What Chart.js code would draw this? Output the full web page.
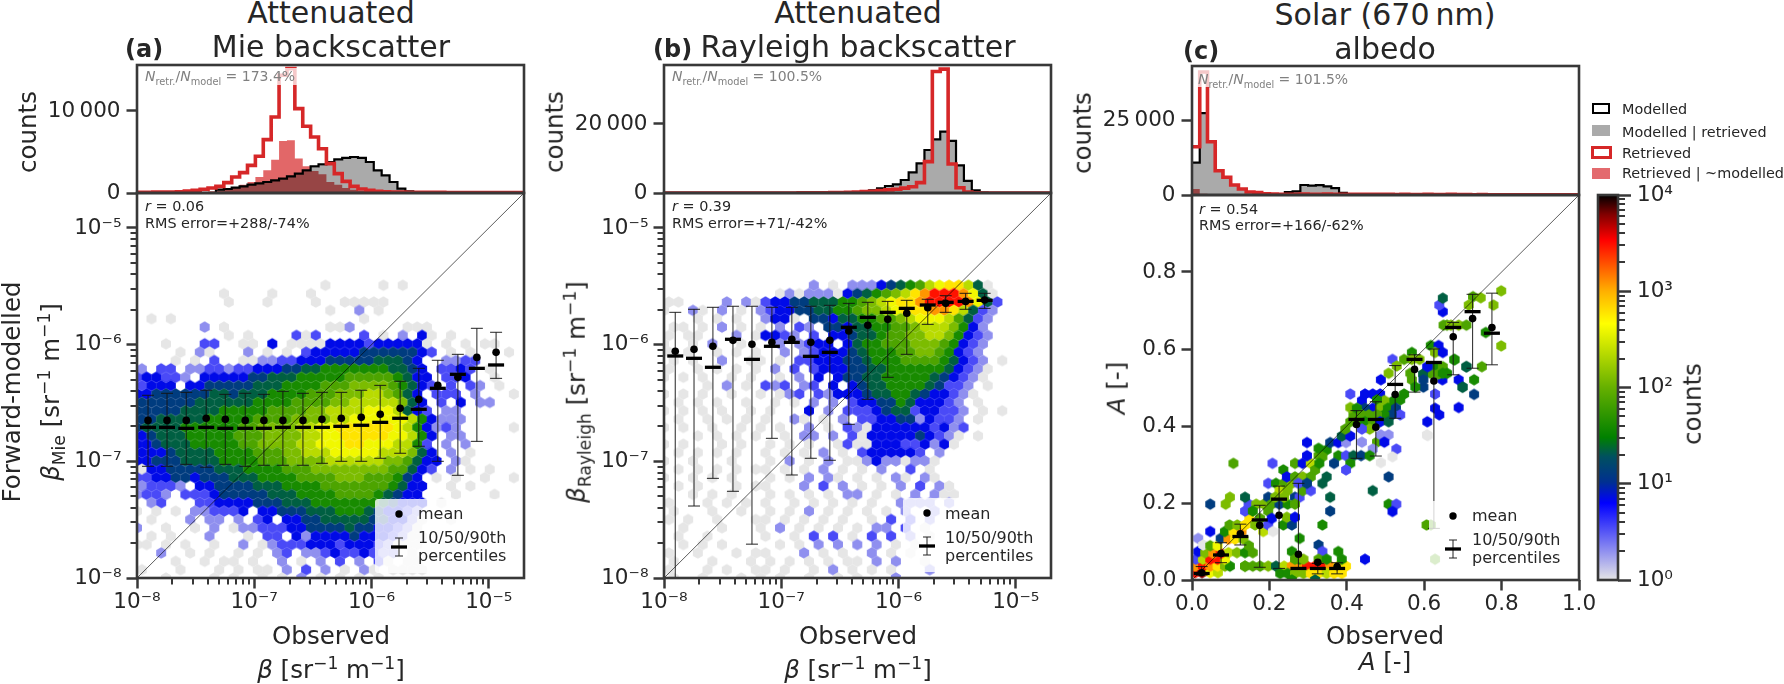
<!DOCTYPE html>
<html><head><meta charset="utf-8">
<style>
html,body{margin:0;padding:0;background:#fff;width:1784px;height:684px;overflow:hidden}
canvas{position:absolute}
.t{position:absolute;white-space:nowrap;color:#262626;line-height:1;font-family:'DejaVu Sans',sans-serif}
.t sub,.t sup{font-size:.7em;line-height:0}
.sw{position:absolute;box-sizing:border-box}
</style>
<script src="https://cdn.jsdelivr.net/npm/chart.js@4"></script>
</head><body>
<script>
// ---------- values ----------
// hexbin tables: one string per hexagon row, top row first; one character per column, see LEVEL_COUNTS
const LEVEL_COUNTS={'1':1,'2':2,'3':3.5,'4':7,'5':13,'6':22,'7':40,'8':75,'9':125,'a':230,'b':400,'c':600,'d':1200,'e':3000,'f':6000,'g':10000};
const mieRows=[
".......... .........1 .....1.1.. ..........",
".........1 ....1...1. .......... ..........",
".........1 ...1....1. .11111.... ..........",
".......... .......... 1..2.1.... ..........",
".1.1...... .......... ...1...... ..........",
".......2.1 .......... 112.....11 1.........",
".........1 .1....313. ...3.1.2.4 1.1.......",
"...1...33. .11.4.1111 4444344444 1.1.1.11..",
"....1.21.. .2.1.1.344 4445555554 3.1.1...1.",
"....1.1.3. .112233444 5555566654 ..2233....",
"2.33.22332 3344455667 7777776654 .3343.1...",
"344332.444 4455666777 7788888764 4.334..1..",
"3444.44555 5566677778 8899998764 3.3.32.1..",
"4455555566 5666777788 8999aa9864 .333.2...1",
"5555556666 6677778888 99aaaaa964 .3.4.22...",
"5555566667 7777888899 aaaabbba64 3.22......",
"5566666777 7788889999 aabbbbbba7 4222......",
"5666677777 7889999aab bccccccba7 4232.....1",
"4566677777 8889999aab bcccccbba7 4.22......",
"4456667777 7889999aab bbccbbbaa7 3.2.2.....",
"4445666677 7788899aaa bbbbbaaa96 4.2.1.....",
"4455566667 7778889999 aaaaaa9986 44.21.....",
"1445555566 6777788899 9999998864 3.2.1.1...",
"3344554555 6667777888 8999888754 .1.1..1..1",
"23332.4455 5566677778 8888887644 ..1.1.....",
"2332.33345 5555666777 7888876544 ...1...1..",
".23...3344 4455566677 7777765444 .1........",
"1.1.1.2233 34.4455566 6777654432 ..........",
".1...2.22. 2.34.44556 6666554421 ..1.......",
"2..1..1.2. 1223334455 5565544321 ..........",
".1.1...2.. .1.33.4244 4454443211 ..........",
"11.1.1..1. .2.1233344 4344432111 ..........",
"..2..1.1.. 1.1.23.223 4334322.1. ..........",
"....1..1.1 1.1..2.1.2 .3.2.31.11 ..........",
"1...1...1. 1.11.2.3.2 .1.21.1111 ..........",
"...1....1. 1..1.1.2.1 .1.1.1.... .........."
];
const rayRows=[
".......... .....2.1.2 2245678abc ca61......",
".......... ..12122214 56789acdee edb61.....",
"11....2.21 3445566677 89abccdeee edb63.....",
"1..21.2.1. 2344556677 899abcccdd ca632.....",
"...1.1.1.. 2441.55466 77889abbba 8632......",
".11.1.2.1. 1.2.32.554 6677889aaa 9742......",
"1.11...2.1 4432.3.445 6678899aa9 7432......",
"1..1.2..1. ..2.2344.4 6778889998 7432......",
"1.1..1.1.1 ..2.234445 6777889987 432.......",
".1.1..2..1 1.1.334445 5677788887 6432.1....",
"1..1.1.1.1 .2.3.34445 5667777776 4321......",
"1.1.1..1.1 ..1.2.4.45 5667777765 4321......",
"....1.2.1. 323.23.4.4 5667777653 32.1......",
"1.1.1..1.. 1.123.3244 4566776544 321.......",
".1.1.1..1. .1.1.2.2.3 4455764443 2.1.......",
"1.1.1.1..1 .1...4.2.3 3345663443 32.1.1....",
".1..1.1.1. 1..21.1.2. 3344552433 2.1.......",
"1.1..1..1. 1.1..2.1.3 2144444434 23........",
"...1.1.1.1 ..1.22.2.3 1444445432 1.1.......",
"1.1...1.1. .1.1.1..13 1144433424 1.........",
".1.1.1.1.. 1.1.1.2.1. 3444443.2. ..........",
"1..1...1.. .1.2.1.2.1 124221221. ..........",
".1.1.1.1.1 1.1.1.2.1. 1.2..3.1.. ..........",
"1..1.1.1.. .1.1.2.21. 1.1.21.21. ..........",
".1.1...1.1 1...2.3.2. 1.1.2.3.21 ..........",
"...1.1.1.. .1.1.1.1.2 2.1.1.2.21 1.........",
"1...1.1.1. 1..1.1.1.1 .1..2222.2 ..........",
".1...1..1. .1.1.2.1.1 .1.1.2..2. ..........",
"1.1..1...1 1.1.1.1.1. .1.3.3.2.. ..........",
"..1...1... 1.2.1.1.1. 1.22.3.1.. ..........",
".1..1..... 1..1.3.3.1 .3.3.2.1.. ..........",
"..1.1.1... ..1.1.2.2. 2.2.1.1... ..........",
"1..1...1.1 1...2.1.1. .2.1.1.... ..........",
".1...1...1 .1.1.1.1.1 1.2.2..1.. ..........",
"1...1.1..1 1.1..1.2.1 .1.1...2.. ..........",
".1..1...1. 1.1..1..1. 1...2..... .........."
];
// panel (c): [observed A, forward-modelled A, level]
const albedoCells=[
[.008,.019,'e'],[.026,.019,'f'],[.047,.019,'b'],[.067,.019,'a'],[.008,.036,'d'],[.028,.036,'e'],[.047,.036,'d'],[.066,.036,'c'],[.085,.036,'9'],[.098,.036,'7'],
[.010,.054,'3'],[.028,.054,'a'],[.047,.054,'e'],[.066,.054,'e'],[.085,.054,'b'],[.137,.036,'8'],[.016,.074,'4'],[.034,.071,'9'],[.055,.069,'d'],[.074,.069,'e'],[.094,.071,'a'],[.116,.071,'9'],[.137,.071,'7'],[.157,.071,'8'],
[.016,.108,'2'],[.029,.091,'1'],[.047,.089,'8'],[.066,.089,'b'],[.074,.108,'5'],[.094,.106,'d'],[.111,.106,'c'],[.133,.106,'9'],[.147,.089,'8'],[.047,.126,'4'],[.085,.126,'7'],[.107,.126,'c'],[.128,.126,'d'],
[.097,.143,'8'],[.117,.143,'9'],[.137,.143,'c'],[.148,.160,'c'],[.163,.143,'9'],[.184,.126,'a'],[.137,.179,'3'],[.146,.197,'3'],[.166,.197,'9'],[.186,.197,'9'],[.157,.179,'7'],[.176,.160,'8'],[.197,.179,'8'],[.197,.143,'3'],[.209,.126,'1'],[.236,.143,'7'],[.258,.143,'5'],[.245,.163,'9'],[.266,.163,'4'],[.206,.160,'4'],
[.047,.197,'5'],[.087,.197,'9'],[.098,.215,'9'],[.137,.215,'6'],[.197,.215,'5'],[.206,.197,'8'],[.226,.197,'5'],[.197,.251,'3'],[.217,.251,'7'],[.238,.251,'8'],[.258,.251,'9'],[.226,.232,'a'],[.247,.232,'9'],[.266,.215,'5'],[.278,.215,'3'],[.247,.197,'7'],[.266,.197,'8'],[.238,.215,'9'],[.215,.215,'9'],
[.107,.303,'8'],[.208,.303,'3'],[.266,.303,'8'],[.236,.286,'7'],[.245,.268,'4'],[.266,.268,'8'],[.286,.303,'4'],[.286,.268,'9'],[.307,.268,'8'],[.286,.232,'8'],[.307,.232,'3'],[.275,.251,'3'],[.297,.251,'5'],[.307,.303,'a'],[.297,.323,'4'],[.327,.323,'8'],[.348,.338,'7'],[.327,.342,'7'],[.337,.320,'8'],[.318,.286,'8'],[.329,.303,'7'],
[.297,.357,'4'],[.357,.357,'5'],[.378,.357,'4'],[.398,.357,'2'],[.387,.374,'6'],[.409,.374,'4'],[.396,.392,'8'],[.409,.411,'8'],[.417,.429,'8'],[.409,.448,'9'],[.409,.483,'3'],[.439,.466,'4'],[.447,.483,'4'],[.467,.483,'4'],[.486,.483,'4'],[.488,.520,'4'],[.518,.573,'3'],[.529,.556,'9'],[.508,.537,'9'],[.548,.483,'7'],[.538,.468,'7'],[.517,.463,'7'],[.497,.466,'9'],[.478,.468,'7'],
[.467,.446,'4'],[.447,.446,'5'],[.426,.446,'7'],[.486,.446,'9'],[.506,.446,'7'],[.527,.446,'5'],[.538,.429,'3'],[.516,.429,'5'],[.497,.429,'7'],[.478,.429,'8'],[.457,.429,'8'],[.439,.429,'8'],[.426,.411,'8'],[.447,.411,'7'],[.467,.411,'8'],[.486,.411,'4'],[.508,.411,'6'],[.459,.392,'9'],[.439,.392,'3'],[.478,.358,'8'],[.488,.377,'2'],[.508,.377,'2'],[.497,.358,'4'],[.528,.340,'3'],[.439,.358,'2'],[.467,.340,'2'],
[.378,.323,'7'],[.398,.323,'3'],[.417,.323,'6'],[.437,.323,'5'],[.459,.323,'7'],[.367,.303,'5'],[.409,.303,'7'],[.398,.286,'3'],[.488,.305,'1'],[.518,.320,'1'],[.508,.268,'5'],[.467,.232,'6'],[.357,.215,'6'],[.348,.268,'6'],[.337,.251,'6'],[.357,.179,'5'],[.337,.143,'7'],[.278,.108,'7'],[.508,.197,'7'],[.528,.197,'3'],[.518,.178,'4'],[.447,.054,'4'],
[.607,.377,'1'],[.608,.411,'4'],[.639,.429,'4'],[.689,.448,'4'],[.699,.501,'6'],[.689,.520,'4'],[.647,.520,'4'],[.628,.483,'3'],[.598,.501,'5'],[.607,.553,'3'],[.628,.553,'7'],[.648,.554,'8'],[.659,.537,'7'],[.637,.535,'8'],[.617,.537,'8'],[.597,.535,'6'],[.568,.591,'7'],[.568,.573,'9'],[.588,.573,'9'],[.548,.573,'8'],[.568,.520,'8'],[.577,.501,'7'],[.678,.573,'7'],[.709,.554,'6'],[.617,.609,'7'],[.637,.609,'4'],[.628,.591,'9'],[.648,.591,'4'],
[.659,.662,'8'],[.650,.662,'8'],[.669,.662,'9'],[.689,.662,'9'],[.709,.662,'8'],[.648,.697,'4'],[.639,.714,'3'],[.648,.732,'6'],[.726,.736,'8'],[.746,.733,'9'],[.715,.714,'9'],[.799,.751,'9'],[.779,.714,'9'],[.759,.643,'7'],[.799,.608,'9'],[.749,.554,'8'],[.709,.554,'6'],[.678,.572,'7'],[.729,.520,'7'],[.729,.482,'5'],[.699,.501,'6'],[.648,.537,'7'],[.628,.446,'4'],[.609,.375,'1'],[.598,.520,'5'],[.564,.537,'8'],[.609,.554,'4'],[.617,.143,'8'],[.606,.143,'8'],[.628,.054,'8'],
[.137,.036,'8'],[.157,.036,'8'],[.176,.036,'8'],[.197,.036,'9'],[.217,.036,'6'],[.238,.036,'a'],[.258,.036,'d'],[.278,.036,'d'],[.297,.036,'e'],[.318,.036,'e'],[.335,.036,'e'],[.357,.036,'d'],[.378,.036,'c'],[.398,.036,'c'],
[.228,.017,'7'],[.247,.017,'7'],[.266,.017,'9'],[.288,.017,'9'],[.307,.017,'c'],[.327,.017,'c'],[.348,.017,'a'],[.367,.017,'c'],[.387,.017,'c'],[.258,.000,'7'],[.318,.000,'6'],
[.327,.091,'5'],[.337,.074,'3'],[.327,.054,'8'],[.348,.054,'7'],[.378,.074,'7'],[.387,.054,'7'],[.258,.074,'7'],[.278,.054,'7'],[.266,.054,'8'],[.288,.054,'9']
];
// mean / median / 10th / 90th percentile per observed bin (log10 for the two profile panels)
const mieBins=[-7.906,-7.744,-7.58,-7.41,-7.247,-7.077,-6.918,-6.756,-6.585,-6.423,-6.258,-6.088,-5.926,-5.756,-5.597,-5.435,-5.264,-5.102,-4.938];
const mieMean=[-6.649,-6.649,-6.649,-6.631,-6.64,-6.649,-6.649,-6.649,-6.649,-6.64,-6.631,-6.623,-6.597,-6.546,-6.469,-6.349,-6.28,-6.109,-6.066];
const mieMedian=[-6.709,-6.709,-6.717,-6.709,-6.717,-6.717,-6.717,-6.709,-6.709,-6.709,-6.7,-6.691,-6.666,-6.631,-6.554,-6.374,-6.254,-6.203,-6.174];
const mieP90=[-6.434,-6.417,-6.409,-6.391,-6.426,-6.417,-6.426,-6.4,-6.417,-6.409,-6.409,-6.391,-6.349,-6.314,-6.203,-6.134,-6.083,-5.86,-5.894];
const mieP10=[-7.043,-7.043,-7.026,-7.051,-7.026,-7.043,-7.034,-7.034,-7.034,-7.017,-7.0,-7.0,-6.974,-6.931,-6.871,-7.0,-7.12,-6.829,-6.289];
const rayBins=[-7.904,-7.744,-7.583,-7.412,-7.25,-7.08,-6.91,-6.748,-6.586,-6.424,-6.262,-6.092,-5.93,-5.751,-5.598,-5.428,-5.266];
const rayMean=[-6.057,-6.04,-6.014,-5.963,-5.997,-5.98,-5.954,-5.98,-5.963,-5.883,-5.834,-5.783,-5.731,-5.683,-5.646,-5.629,-5.617];
const rayMedian=[-6.097,-6.117,-6.194,-5.954,-6.126,-6.014,-5.98,-6.1,-6.066,-5.851,-5.766,-5.723,-5.689,-5.66,-5.637,-5.629,-5.62];
const rayP90=[-5.723,-5.697,-5.68,-5.671,-5.671,-5.68,-5.68,-5.671,-5.663,-5.646,-5.637,-5.629,-5.62,-5.611,-5.58,-5.56,-5.56];
const rayP10=[-8.2,-7.383,-7.146,-7.257,-7.71,-6.803,-7.117,-6.974,-6.991,-6.683,-6.469,-6.28,-6.083,-5.826,-5.723,-5.697,-5.689];
const albBins=[.025,.075,.125,.175,.225,.275,.325,.375,.425,.475,.525,.575,.625,.675,.725,.775];
const albMean=[.019,.069,.12,.142,.168,.067,.046,.035,.404,.397,.482,.547,.517,.632,.679,.656];
const albMedian=[.017,.065,.113,.156,.21,.03,.03,.03,.417,.417,.508,.573,.565,.656,.697,.641];
const albP90=[.035,.097,.145,.194,.244,.251,.043,.045,.44,.463,.557,.585,.6,.669,.742,.745];
const albP10=[.013,.045,.091,.033,.03,.028,.016,.016,.316,.322,.42,.488,.134,.533,.55,.559];
// histograms (counts per bin)
const mieRetrieved=[100,100,110,120,130,160,240,325,450,610,810,1260,1950,2480,3370,4470,6500,9270,14350,15160,10280,8130,6830,5400,3580,2360,1420,810,490,325,200,160,130,110,100,90,80,80,80,70,70,70,70,60,60,60,60,60,60];
const mieRetrievedNotModelled=[20,20,30,30,40,50,80,100,150,200,300,450,730,1000,1340,1950,2760,4065,6340,6420,4190,3250,2680,2280,1340,1000,610,400,240,150,90,60,40,30,30,30,20,20,20,20,20,20,20,20,20,20,20,20,20];
const mieModelled=[0,0,0,0,0,0,0,0,0,0,405,490,650,810,1020,1180,1340,1545,1750,2030,2360,2760,3250,3500,3780,4100,4270,4390,4270,3780,2760,2150,1340,530,200,40,0,0,0,0,0,0,0,0,0,0,0,0,0];
const mieModelledRetrieved=[0,0,0,0,0,0,0,0,0,0,390,470,620,780,980,1130,1290,1490,1690,1960,2280,2660,3100,3340,3650,4020,4220,4360,4250,3770,2750,2140,1340,530,200,40,0,0,0,0,0,0,0,0,0,0,0,0,0];
const rayRetrieved=[0,0,0,0,0,0,0,0,0,0,0,0,0,0,0,0,0,30,40,60,80,100,150,200,300,400,500,700,900,1070,1400,1830,3000,9080,35200,35900,8410,1500,300,80,20,0,0,0,0,0,0,0,0];
const rayRetrievedNotModelled=[0,0,0,0,0,0,0,0,0,0,0,0,0,0,0,0,0,20,20,30,30,30,40,40,40,40,40,40,40,40,40,30,30,30,30,20,20,10,0,0,0,0,0,0,0,0,0,0,0];
const rayModelled=[0,0,0,0,0,0,0,0,0,0,0,0,0,0,0,0,0,0,0,0,0,0,0,100,200,400,800,1360,2030,2520,3770,6000,8600,12470,15570,17800,15080,8000,3500,800,100,0,0,0,0,0,0,0,0];
const rayModelledRetrieved=[0,0,0,0,0,0,0,0,0,0,0,0,0,0,0,0,0,0,0,0,0,0,0,90,190,380,780,1330,1990,2480,3720,5950,8540,12400,15500,17720,15000,7950,3480,790,100,0,0,0,0,0,0,0,0];
const albRetrieved=[16100,41000,17770,8100,5900,3330,2000,1000,800,400,300,250,200,200,300,250,200,300,200,200,250,200,200,200,250,200,150,200,150,150,200,150,150,200,150,150,100,150,100,100,100,100,100,100,100,100,100,100,100,100];
const albRetrievedNotModelled=[2000,400,200,150,100,100,80,60,50,40,30,30,30,30,30,30,30,30,30,30,30,30,30,30,30,30,30,30,30,30,20,20,20,20,20,20,20,20,20,20,20,20,20,20,20,20,20,20,20,20];
const albModelled=[10770,27300,17770,8200,5900,3330,2000,1000,700,300,200,100,1000,1200,3330,3100,3300,2900,2300,700,100,60,50,50,50,50,50,40,40,40,30,30,30,30,30,20,20,20,20,20,20,20,20,10,10,10,10,10,10,10];
const albModelledRetrieved=[10600,27000,17600,8100,5800,3280,1950,970,680,290,190,90,950,1150,3250,3020,3220,2840,2250,680,90,50,40,40,40,40,40,30,30,30,20,20,20,20,20,20,20,10,10,10,10,10,10,10,10,10,10,10,10,10];
// tick labels
const histTicksMie=[0,10000], histTicksRay=[0,20000], histTicksAlb=[0,25000];
const albedoTicksX=[0,.2,.4,.6,.8,1];
const albedoTicksY=[0,.2,.4,.6,.8];

// ---------- drawing helpers ----------
Chart.defaults.font.family="'DejaVu Sans',sans-serif";
const INK='#262626', SPINE='#383838';
const CMAP=[[0,[230,230,230]],[.2,[0,0,255]],[.255,[0,48,144]],[.32,[0,80,96]],[.37,[0,128,0]],[.5,[102,176,0]],[.666,[255,255,0]],[.75,[255,176,0]],[.883,[255,0,0]],[.95,[128,0,0]],[1,[0,0,0]]];
function cmap(f){for(let i=1;i<CMAP.length;i++){if(f<=CMAP[i][0]){const[a,ca]=CMAP[i-1],[b,cb]=CMAP[i],t=(f-a)/(b-a);return`rgb(${ca.map((v,k)=>Math.round(v+(cb[k]-v)*t)).join(',')})`}}return'rgb(0,0,0)'}
const hexCache={};
function hexImg(col,R){const key=col+R;if(hexCache[key])return hexCache[key];const c=document.createElement('canvas');c.width=c.height=16;const g=c.getContext('2d');g.fillStyle=col;g.beginPath();for(let n=0;n<6;n++){const a=Math.PI/3*n-Math.PI/2;g.lineTo(8+R*Math.cos(a),8+R*Math.sin(a))}g.closePath();g.fill();return hexCache[key]=c}
const SUP={'-':'⁻','0':'⁰','1':'¹','2':'²','3':'³','4':'⁴','5':'⁵','6':'⁶','7':'⁷','8':'⁸','9':'⁹'};
const pow10Label=e=>'10'+String(e).split('').map(c=>SUP[c]).join('');
function decadeTicks(e0,e1,maxV){const t=[];for(let e=e0;e<=e1;e++)for(let m=1;m<10;m++){const v=m*Math.pow(10,e);if(v<=maxV*1.0001)t.push({value:v,major:m===1,label:m===1?pow10Label(e):''})}return t}
const deco={id:'deco',
 afterDatasetsDraw(ch){const o=ch.options.plugins.deco||{},c=ch.ctx,A=ch.chartArea;
  if(o.box){c.save();c.fillStyle='rgba(255,255,255,.75)';c.fillRect(A.left+o.box[0],A.top+o.box[1],o.box[2],o.box[3]);c.restore()}
  if(o.legend){const[x,y]=[A.left+o.legend[0],A.top+o.legend[1]];c.save();c.fillStyle='rgba(255,255,255,.8)';c.beginPath();c.roundRect(x,y,141,74,3);c.fill();
   c.fillStyle='#000';c.beginPath();c.arc(x+24,y+15,3.7,0,7);c.fill();
   c.strokeStyle='#222';c.lineWidth=1;c.beginPath();c.moveTo(x+24,y+39);c.lineTo(x+24,y+57);c.moveTo(x+20,y+39);c.lineTo(x+28,y+39);c.moveTo(x+20,y+57);c.lineTo(x+28,y+57);c.stroke();
   c.strokeStyle='#000';c.lineWidth=3.3;c.beginPath();c.moveTo(x+16,y+48);c.lineTo(x+32,y+48);c.stroke();c.restore()}
 },
 afterDraw(ch){const c=ch.ctx,A=ch.chartArea;c.save();c.strokeStyle=SPINE;
  for(const id in ch.scales){const s=ch.scales[id];if(!s.options.display||s.axis==='r')continue;
   c.lineWidth=2;c.beginPath();
   for(const t of s.ticks){if(t.major)continue;const p=Math.round(s.getPixelForValue(t.value));
    if(s.axis==='x'){c.moveTo(p,A.bottom);c.lineTo(p,A.bottom+6.5)}
    else if(s.position==='right'){c.moveTo(A.right,p);c.lineTo(A.right+7,p)}
    else{c.moveTo(A.left,p);c.lineTo(A.left-6.5,p)}}
   c.stroke()}
  c.lineWidth=2.6;c.strokeRect(A.left,A.top,A.right-A.left,A.bottom-A.top);c.restore()}
};
function axis(opt){const{type,min,max,ticks,position,size,fontSize,tickLen}=opt;
 return{type,min,max,position,display:opt.display!==false,
  afterFit:s=>{if(s.isHorizontal())s.height=size;else s.width=size;s.paddingTop=s.paddingBottom=s.paddingLeft=s.paddingRight=0},
  afterBuildTicks:s=>{s.ticks=ticks.map(t=>({value:t.value,major:t.major,label:t.label}))},
  border:{display:false},
  grid:{drawOnChartArea:false,drawTicks:true,tickLength:tickLen||10.5,tickWidth:2.5,tickColor:c=>(c.tick&&c.tick.major)?SPINE:'rgba(0,0,0,0)'},
  ticks:{autoSkip:false,maxRotation:0,minRotation:0,padding:opt.pad===undefined?6:opt.pad,color:INK,font:{size:fontSize||21.5},
   callback:(v,i)=>ticks[i]?ticks[i].label:''}};
}
function place(id,L,T,W,H,mL,mT,mR,mB){const c=document.createElement('canvas');c.id=id;c.width=W+mL+mR;c.height=H+mT+mB;c.style.left=(L-mL)+'px';c.style.top=(T-mT)+'px';c.style.width=c.width+'px';c.style.height=c.height+'px';document.body.appendChild(c);return c.getContext('2d')}
const baseOpts=(extra)=>Object.assign({responsive:false,animation:false,devicePixelRatio:1,events:[]},extra);

const LOG_MAX=Math.pow(10,-4.7), LOG_MIN=1e-8;
const logTicks=decadeTicks(-8,-5,LOG_MAX);
const linTick=v=>({value:v,major:true,label:v.toFixed(1)});
const BIN_LOG=.0673, BIN_LIN=.02;

function histChart(id,box,isLog,yMax,yTicks,series,noteBox){
 const[L,T,W,H]=box,mL=110,mT=14,mR=8,mB=14;
 const edge=k=>isLog?Math.pow(10,-8+k*BIN_LOG):k*BIN_LIN;
 const pts=a=>a.concat([a[a.length-1]]).map((y,k)=>({x:edge(k),y}));
 const ds=(a,o)=>Object.assign({data:pts(a),showLine:true,stepped:true,pointRadius:0,clip:0,tension:0},o);
 new Chart(place(id,L,T,W,H,mL,mT,mR,mB),{type:'scatter',plugins:[deco],data:{datasets:[
  ds(series[1],{label:'Retrieved | ~modelled',fill:'origin',backgroundColor:'rgba(214,39,40,.7)',borderWidth:0,borderColor:'rgba(0,0,0,0)',order:4}),
  ds(series[3],{label:'Modelled | retrieved',fill:'origin',backgroundColor:'rgba(0,0,0,.335)',borderWidth:0,borderColor:'rgba(0,0,0,0)',order:3}),
  ds(series[2],{label:'Modelled',borderColor:'#000',borderWidth:2.2,order:2}),
  ds(series[0],{label:'Retrieved',borderColor:'#d62728',borderWidth:3.6,order:1})
 ]},options:baseOpts({layout:{autoPadding:false,padding:{left:0,top:mT,right:mR,bottom:mB}},
  plugins:{legend:{display:false},tooltip:{enabled:false},deco:{box:noteBox}},
  scales:{x:{type:isLog?'logarithmic':'linear',min:isLog?LOG_MIN:0,max:isLog?LOG_MAX:1,display:false},
   y:axis({type:'linear',min:0,max:yMax,size:mL,ticks:yTicks.map(v=>({value:v,major:true,label:v===0?'0':String(v).replace(/(\d{3})$/,'\u2009$1')}))})}})});
}
function mainChart(id,box,isLog,cells,R,bins,mean,median,p90,p10,legend){
 const[L,T,W,H]=box,mL=110,mT=14,mR=28,mB=70;
 const u=v=>isLog?Math.pow(10,v):v;
 const err=[];bins.forEach((b,i)=>{err.push({x:u(b),y:u(p10[i])},{x:u(b),y:u(p90[i])},{x:u(b),y:null})});
 const pt=a=>bins.map((b,i)=>({x:u(b),y:u(a[i])}));
 const top=isLog?LOG_MAX:1, bottom=isLog?LOG_MIN:0;
 const scale=(tk)=>({type:isLog?'logarithmic':'linear',min:bottom,max:top,ticks:tk});
 new Chart(place(id,L,T,W,H,mL,mT,mR,mB),{type:'scatter',plugins:[deco],data:{datasets:[
  {label:'cells',data:cells,order:9,pointRadius:6,pointBorderWidth:0,clip:0,pointStyle:c=>hexImg(cmap(Math.log10(c.raw.c)/4),R)},
  {label:'1:1',data:[{x:bottom,y:bottom},{x:top,y:top}],showLine:true,borderColor:'rgba(0,0,0,.8)',borderWidth:.8,pointRadius:0,order:8},
  {label:'10-90',data:err,showLine:true,spanGaps:false,borderColor:'rgba(20,20,20,.85)',borderWidth:1.1,pointRadius:0,order:7},
  {label:'p90',data:pt(p90),pointStyle:'line',pointRadius:6,pointBorderWidth:1.1,pointBorderColor:'rgba(20,20,20,.85)',order:6},
  {label:'p10',data:pt(p10),pointStyle:'line',pointRadius:6,pointBorderWidth:1.1,pointBorderColor:'rgba(20,20,20,.85)',order:5},
  {label:'median',data:pt(median),pointStyle:'line',pointRadius:8,pointBorderWidth:3.3,pointBorderColor:'#000',order:4},
  {label:'mean',data:pt(mean),pointRadius:3.8,pointBorderWidth:0,pointBackgroundColor:'#000',order:3}
 ]},options:baseOpts({layout:{autoPadding:false,padding:{left:0,top:mT,right:mR,bottom:0}},
  plugins:{legend:{display:false},tooltip:{enabled:false},deco:{legend}},
  scales:{x:axis(Object.assign(scale(isLog?logTicks:albedoTicksX.map(linTick)),{size:mB,position:'bottom',pad:1})),
          y:axis(Object.assign(scale(isLog?logTicks:albedoTicksY.map(linTick)),{size:mL,position:'left',pad:5}))}})});
}
function tableCells(rows){const out=[];const n=rows.length;rows.forEach((r,ri)=>{const s=r.replace(/ /g,''),j=n-1-ri;for(let i=0;i<s.length;i++){const ch=s[i];if(ch==='.')continue;out.push({x:Math.pow(10,-8+(i+(j%2)*.5)*.0824),y:Math.pow(10,-8+j*.0717),c:LEVEL_COUNTS[ch]})}});return out}

const BOX_A=[137,65,387,128],BOX_B=[664,65,387,128],BOX_C=[1192,66,387,129];
const MAIN_A=[137,193,387,385],MAIN_B=[664,193,387,385],MAIN_C=[1192,195,387,385];
histChart('histMie',BOX_A,true,15600,histTicksMie,[mieRetrieved,mieRetrievedNotModelled,mieModelled,mieModelledRetrieved],[6,3,157,17]);
histChart('histRay',BOX_B,true,37100,histTicksRay,[rayRetrieved,rayRetrievedNotModelled,rayModelled,rayModelledRetrieved],[6,3,157,17]);
histChart('histAlb',BOX_C,false,43000,histTicksAlb,[albRetrieved,albRetrievedNotModelled,albModelled,albModelledRetrieved],[5,4,157,17]);
mainChart('mainMie',MAIN_A,true,tableCells(mieRows),5.75,mieBins,mieMean,mieMedian,mieP90,mieP10,[238,306]);
mainChart('mainRay',MAIN_B,true,tableCells(rayRows),5.75,rayBins,rayMean,rayMedian,rayP90,rayP10,[239,305]);
mainChart('mainAlb',MAIN_C,false,albedoCells.map(a=>({x:a[0],y:a[1],c:LEVEL_COUNTS[a[2]]})),5.7,albBins,albMean,albMedian,albP90,albP10,[237,306]);

// colour bar
(function(){const[L,T,W,H]=[1598,195,20,385],mL=4,mT=14,mR=70,mB=14;
 const tk=decadeTicks(0,3,1e4).concat([{value:1e4,major:true,label:pow10Label(4)}]).map(t=>t.major?{value:t.value,major:true,label:pow10Label(Math.round(Math.log10(t.value)))}:t);
 new Chart(place('colourbar',L,T,W,H,mL,mT,mR,mB),{type:'bar',plugins:[deco],data:{labels:['counts'],datasets:[{data:[[1,1e4]],barPercentage:1,categoryPercentage:1,borderWidth:0,
  backgroundColor:c=>{const a=c.chart.chartArea;if(!a)return'#000';const g=c.chart.ctx.createLinearGradient(0,a.bottom,0,a.top);CMAP.forEach(s=>g.addColorStop(s[0],`rgb(${s[1].join(',')})`));return g}}]},
 options:baseOpts({layout:{autoPadding:false,padding:{left:mL,top:mT,right:0,bottom:mB}},plugins:{legend:{display:false},tooltip:{enabled:false},deco:{}},
  scales:{x:{display:false},y:axis({type:'logarithmic',min:1,max:1e4,position:'right',ticks:tk,size:mR,tickLen:13,pad:6})}})})
})();

// ---------- text ----------
function T(html,x,y,size,o){o=o||{};const d=document.createElement('div');d.className='t';d.innerHTML=html;const ax=o.anchor==='l'?'0%':o.anchor==='r'?'-100%':'-50%';
 d.style.cssText=`left:${x}px;top:${y}px;font-size:${size}px;transform:translate(${ax},-50%)${o.rot?' rotate(-90deg)':''};${o.bold?'font-weight:bold;':''}${o.color?'color:'+o.color+';':''}`;document.body.appendChild(d)}
const UNIT='[sr<sup>−1</sup> m<sup>−1</sup>]';
T('Attenuated',331,13,30);T('Mie backscatter',331,47,30);T('(a)',125,49,24,{anchor:'l',bold:1});
T('Attenuated',858,13,30);T('Rayleigh backscatter',858,47,30);T('(b)',653,49,24,{anchor:'l',bold:1});
T('Solar (670\u2009nm)',1385,15,30);T('albedo',1385,49,30);T('(c)',1183,51,24,{anchor:'l',bold:1});
T('counts',28,132,24.5,{rot:1});T('counts',555,132,24.5,{rot:1});T('counts',1083,133,24.5,{rot:1});
T('Forward-modelled',12,392,24.5,{rot:1});T('<i>β</i><sub>Mie</sub> '+UNIT,51,392,24.5,{rot:1});
T('<i>β</i><sub>Rayleigh</sub> '+UNIT,577,392,24.5,{rot:1});T('<i>A</i> [-]',1117,388,24.5,{rot:1});
T('Observed',331,636,24.5);T('<i>β</i> '+UNIT,331,670,24.5);
T('Observed',858,636,24.5);T('<i>β</i> '+UNIT,858,670,24.5);
T('Observed',1385,636,24.5);T('<i>A</i> [-]',1385,662,24.5);
T('counts',1693,404,24.5,{rot:1});
const NOTE='#808080';
const nTxt=p=>`<i>N</i><sub>retr.</sub>/<i>N</i><sub>model</sub> = ${p}%`;
T(nTxt('173.4'),145,76,14,{anchor:'l',color:NOTE});T(nTxt('100.5'),672,76,14,{anchor:'l',color:NOTE});T(nTxt('101.5'),1198,79,14,{anchor:'l',color:NOTE});
T('<i>r</i> = 0.06',145,206,14.4,{anchor:'l'});T('RMS error=+288/-74%',145,223,14.4,{anchor:'l'});
T('<i>r</i> = 0.39',672,206,14.4,{anchor:'l'});T('RMS error=+71/-42%',672,223,14.4,{anchor:'l'});
T('<i>r</i> = 0.54',1199,209,14.4,{anchor:'l'});T('RMS error=+166/-62%',1199,225,14.4,{anchor:'l'});
[[418,514],[945,514],[1472,516]].forEach(([x,y])=>{T('mean',x,y,16,{anchor:'l'});T('10/50/90th',x,y+24,16,{anchor:'l'});T('percentiles',x,y+42,16,{anchor:'l'})});
// histogram key
[['Modelled',109],['Modelled | retrieved',132],['Retrieved',153],['Retrieved | ~modelled',173]].forEach(([s,y])=>T(s,1622,y,14.4,{anchor:'l'}));
[[1592,103,18,11,'border:2px solid #000'],[1592,125,18,11,'background:#aaa'],[1591,146,21,13,'border:3px solid #d62728'],[1592,168,18,11,'background:#e36a6e']].forEach(([x,y,w,h,s])=>{const d=document.createElement('div');d.className='sw';d.style.cssText=`left:${x}px;top:${y}px;width:${w}px;height:${h}px;${s}`;document.body.appendChild(d)});
</script>
</body></html>
